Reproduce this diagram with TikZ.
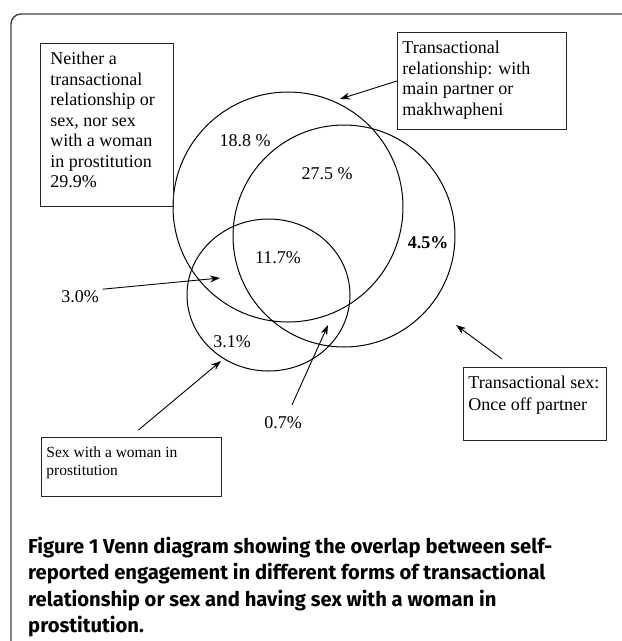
\documentclass[tikz,border=0pt]{standalone}
\usepackage{fontspec}
\setmainfont{Liberation Serif}
\newfontfamily\capfont{Fira Sans}
\usetikzlibrary{arrows.meta}
\def\drawring{\draw[line width=1pt]}
\def\labelbox{\node[draw=black!85, line width=0.9pt, anchor=north west, inner ysep=9pt, font=\fontsize{18}{20.5}\selectfont]}
\def\pct{\node[anchor=base, inner sep=1pt, font=\fontsize{18}{20}\selectfont]}
\def\pointer{\draw[line width=0.9pt, -{Stealth[length=10pt,width=7pt]}]}
\newcommand\boxtext[3]{\parbox[t][#2][t]{#1}{\raggedright #3}}

\begin{document}
\begin{tikzpicture}[x=1pt,y=-1pt]
\useasboundingbox (0,0) rectangle (622,641);
\clip (0,0) rectangle (622,641);
% outer frame, runs off the page to the right and at the bottom
\draw[line width=1.4pt, black!75, rounded corners=10pt] (11,660) -- (11,14) -- (640,14);

% The three sets
\coordinate (mainc) at (288,207);
\coordinate (oncec) at (344,236);
\coordinate (prostc) at (268.5,295);
\drawring (mainc) circle (115pt);
\drawring (oncec) circle (111pt);
\drawring (prostc) ellipse [x radius=81.5pt, y radius=76pt];

% Shares inside the sets
\pct (pct188) at (245,146) {18.8 \%};
\pct (pct275) at (327,179) {27.5 \%};
\pct (pct117) at (278,263) {11.7\%};
\pct (pct45) at (428,248) {\bfseries 4.5\%};
\pct (pct31) at (232,347) {3.1\%};
\pct (pct30) at (80,302) {3.0\%};
\pct (pct07) at (283,428) {0.7\%};

% Boxes naming the sets
\labelbox[inner xsep=10pt] (nonebox) at (40,43) {\boxtext{113pt}{145pt}{Neither a\\ transactional\\ relationship or\\ sex, nor sex\\ with a woman\\ in prostitution\\ 29.9\%}};
\labelbox[inner xsep=5pt] (relbox) at (397,32) {\boxtext{159pt}{79pt}{Transactional\\ relationship: with\\ main partner or\\ makhwapheni}};
\labelbox[inner xsep=5pt, font=\fontsize{18}{21.5}\selectfont] (oncebox) at (463,367) {\boxtext{133pt}{55pt}{Transactional sex:\\ Once off partner}};
\labelbox[inner xsep=5pt, font=\fontsize{15.5}{18}\selectfont] (prostbox) at (41,437) {\boxtext{170pt}{41pt}{Sex with a woman in\\ prostitution}};

% Pointers
\coordinate (relTip) at (340,99);
\coordinate (tip30) at (220,278);
\coordinate (prostTip) at (221,361);
\coordinate (tip07) at (328,325);
\coordinate (onceTip) at (456,325);
\pointer (relbox.west) -- (relTip);
\pointer ([xshift=3pt,yshift=7pt]pct30.east) -- (tip30);
\pointer ([xshift=7pt,yshift=7pt]prostbox.north) -- (prostTip);
\pointer ([xshift=9pt,yshift=10pt]pct07.north) -- (tip07);
\pointer ([xshift=39pt,yshift=8pt]oncebox.north west) -- (onceTip);

% Caption
\node[anchor=north west, inner sep=0pt, align=left, font=\capfont\bfseries\fontsize{20.2}{26.4}\selectfont] (caption) at (28,537) {Figure 1 Venn diagram showing the overlap between self-\\reported engagement in different forms of transactional\\relationship or sex and having sex with a woman in\\prostitution.};
\end{tikzpicture}
\end{document}
